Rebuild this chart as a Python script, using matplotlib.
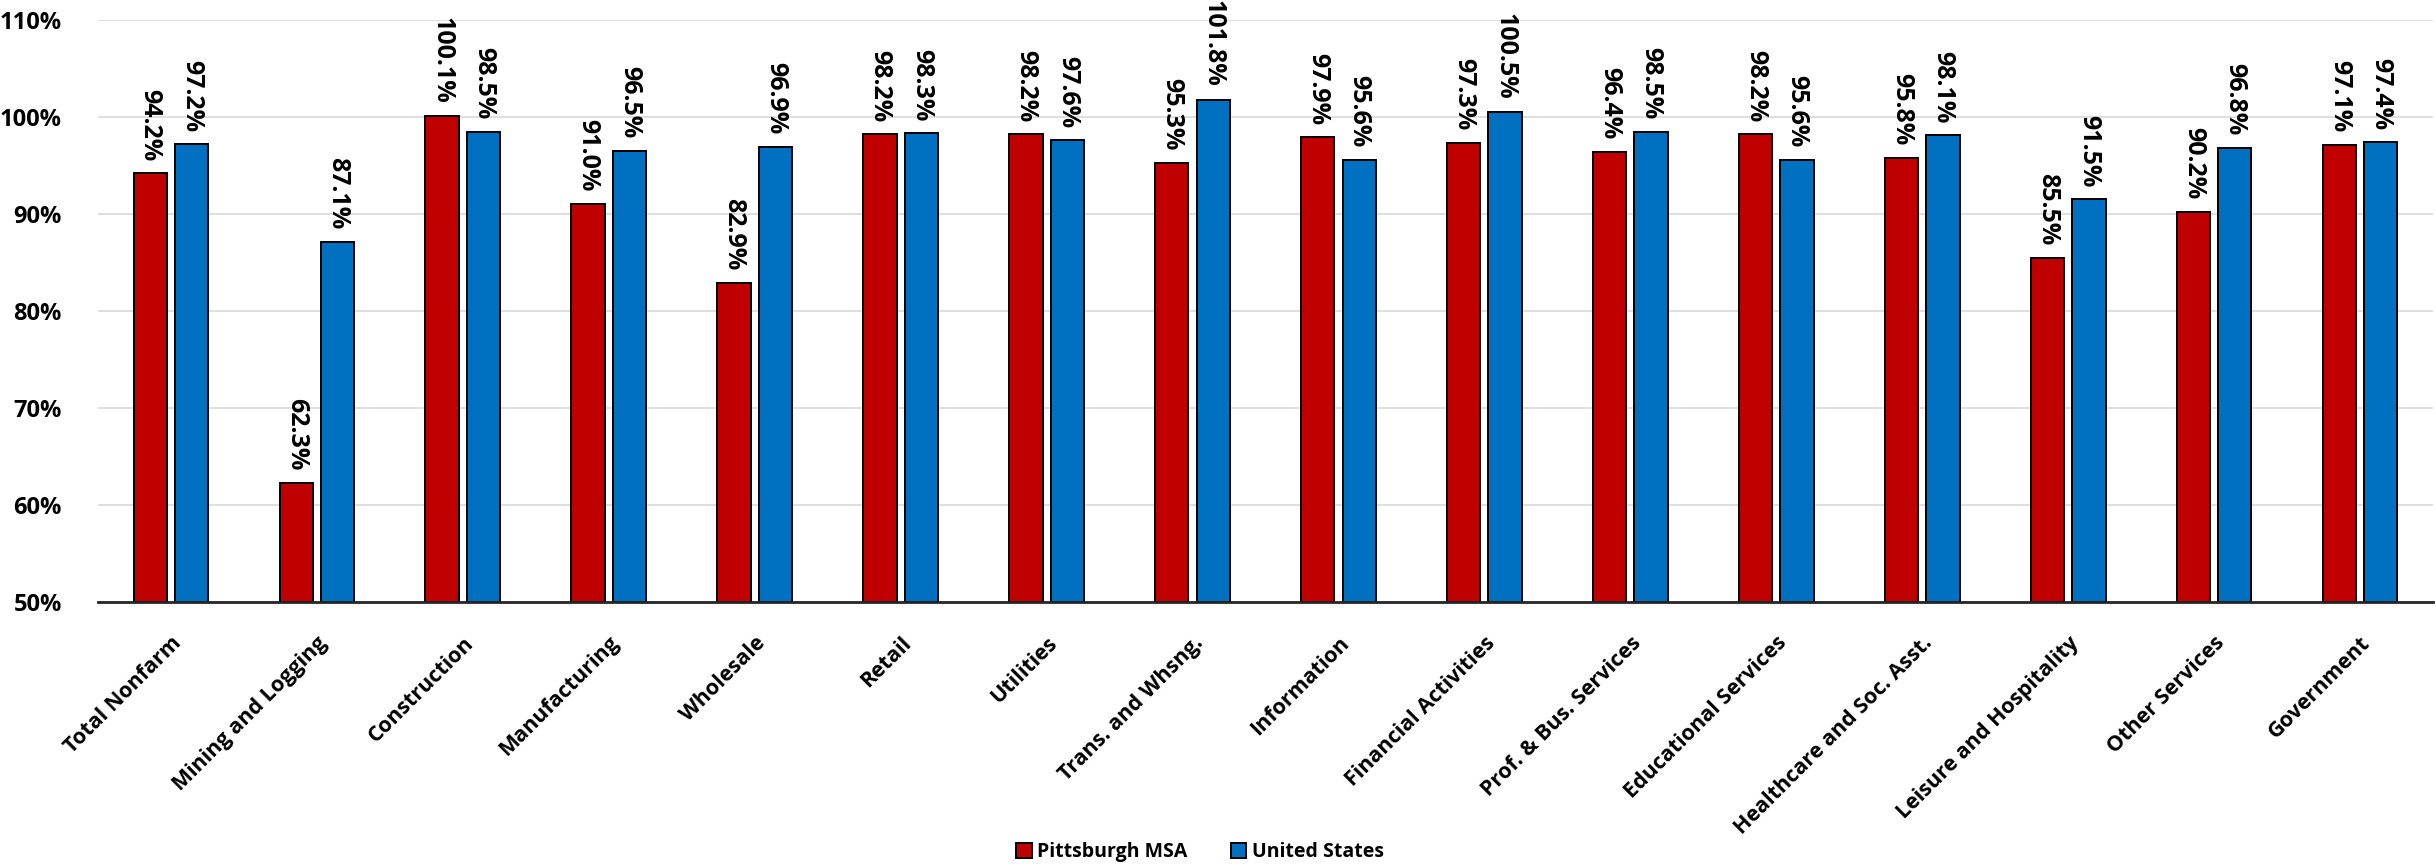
import matplotlib
matplotlib.use("Agg")
import matplotlib.pyplot as plt
from matplotlib.ticker import FuncFormatter
import numpy as np

plt.rcParams['font.family'] = ['Open Sans', 'DejaVu Sans']

categories = ["Total Nonfarm", "Mining and Logging", "Construction", "Manufacturing",
              "Wholesale", "Retail", "Utilities", "Trans. and Whsng.", "Information",
              "Financial Activities", "Prof. & Bus. Services", "Educational Services",
              "Healthcare and Soc. Asst.", "Leisure and Hospitality", "Other Services",
              "Government"]
pittsburgh = [94.2, 62.3, 100.1, 91.0, 82.9, 98.2, 98.2, 95.3, 97.9, 97.3, 96.4, 98.2,
              95.8, 85.5, 90.2, 97.1]
united_states = [97.2, 87.1, 98.5, 96.5, 96.9, 98.3, 97.6, 101.8, 95.6, 100.5, 98.5, 95.6,
                 98.1, 91.5, 96.8, 97.4]
series_names = ["Pittsburgh MSA", "United States"]
yticks = [50, 60, 70, 80, 90, 100, 110]

RED = "#C00000"
BLUE = "#0070C0"

fig = plt.figure(figsize=(24.36, 8.66), dpi=100)
ax = fig.add_axes([98 / 2436, 1 - 602 / 866, (2433 - 98) / 2436, (602 - 20) / 866])

x = np.arange(len(categories))
w = 0.228
off = 0.142
bars_p = ax.bar(x - off, [v - 50 for v in pittsburgh], w, bottom=50, color=RED,
                edgecolor="black", linewidth=1.4, label=series_names[0], zorder=3)
bars_u = ax.bar(x + off, [v - 50 for v in united_states], w, bottom=50, color=BLUE,
                edgecolor="black", linewidth=1.4, label=series_names[1], zorder=3)

for bars, vals in ((bars_p, pittsburgh), (bars_u, united_states)):
    for b, v in zip(bars, vals):
        ax.annotate(f"{v:.1f}%", xy=(b.get_x() + b.get_width() / 2, v),
                    xytext=(0, 9), textcoords="offset points",
                    rotation=270, ha="center", va="bottom", fontsize=18,
                    fontweight="bold", color="black", annotation_clip=False)

ax.set_xlim(-0.5, len(categories) - 0.5)
ax.set_ylim(50, 110)
ax.set_yticks(yticks)
ax.yaxis.set_major_formatter(FuncFormatter(lambda v, p: f"{v:.0f}%"))
ax.set_xticks(x)
ax.set_xticklabels(categories, rotation=45, ha="right", rotation_mode="anchor",
                   fontsize=15.5, fontweight="bold")
for lbl in ax.get_yticklabels():
    lbl.set_fontsize(17)
    lbl.set_fontweight("bold")
ax.tick_params(axis="both", length=0)
ax.tick_params(axis="x", pad=22)
ax.tick_params(axis="y", pad=26)

ax.yaxis.grid(True, color="#d9d9d9", linewidth=1.2, zorder=0)
ax.set_axisbelow(True)
for s in ("top", "right", "left"):
    ax.spines[s].set_visible(False)
ax.spines["bottom"].set_color("#262626")
ax.spines["bottom"].set_linewidth(2.0)
ax.spines["bottom"].set_zorder(4)

leg = fig.legend(loc="center", bbox_to_anchor=(1200 / 2436, 0.016), ncol=2, frameon=False,
                 prop={"size": 14, "weight": "bold"}, handlelength=0.8, handleheight=0.8,
                 handletextpad=0.3, columnspacing=2.2)

fig.savefig("out.png", dpi=100)
